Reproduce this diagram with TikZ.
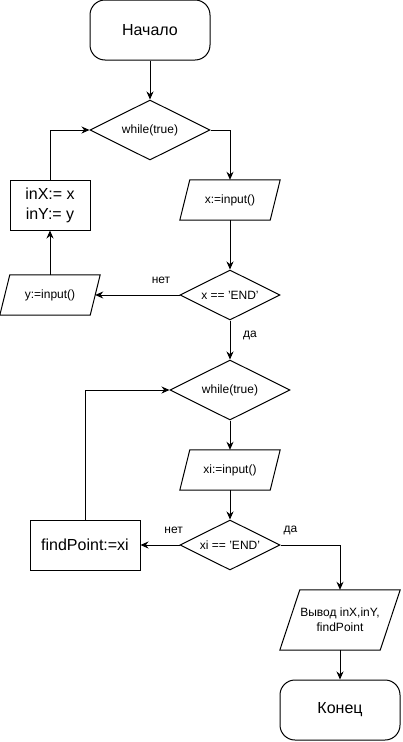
\documentclass[tikz,border=0pt]{standalone}
\usepackage{fontspec}
\setmainfont{Liberation Sans}
\usetikzlibrary{shapes.geometric,arrows.meta}
\newcommand\paral[2]{\draw[line width=1pt, line join=miter] (#1.south west) -- ([xshift=#2]#1.north west) -- (#1.north east) -- ([xshift=-#2]#1.south east) -- cycle;}
\begin{document}
\begin{tikzpicture}[x=1pt,y=-1pt,
  base/.style={draw, line width=1pt, inner sep=0pt, align=center, font=\fontsize{12}{15}\selectfont},
  term/.style={base, rectangle, rounded corners=15pt, minimum width=120pt, minimum height=60pt, font=\fontsize{16}{19}\selectfont},
  proc/.style={base, rectangle, font=\fontsize{16}{20}\selectfont},
  dec/.style={base, diamond, aspect=2},
  io/.style={rectangle, inner sep=0pt, align=center, font=\fontsize{12}{15}\selectfont},
  arr/.style={line width=1pt, -{Stealth[length=8pt,width=7pt]}},
  lbl/.style={inner sep=0pt, font=\fontsize{12}{14}\selectfont}
]
\useasboundingbox (0,0) rectangle (402,742);

\node[term] (start) at (150,30) {Начало};
\node[dec, minimum width=120pt, minimum height=60pt] (w1) at (150,130) {while(true)};
\node[io, minimum width=100pt, minimum height=40pt] (in1) at (230,200) {x:=input()};
\node[proc, minimum width=80pt, minimum height=50pt] (assign) at (50,205) {inX:= x\\inY:= y};
\node[io, minimum width=100pt, minimum height=40pt] (in2) at (50,295) {y:=input()};
\node[dec, minimum width=100pt, minimum height=50pt] (c1) at (230,295) {x == 'END'};
\node[dec, minimum width=120pt, minimum height=60pt] (w2) at (230,390) {while(true)};
\node[io, minimum width=100pt, minimum height=40pt] (in3) at (230,470) {xi:=input()};
\node[dec, minimum width=100pt, minimum height=50pt] (c2) at (230,545) {xi == 'END'};
\node[proc, minimum width=110pt, minimum height=50pt] (fp) at (85,545) {findPoint:=xi};
\node[io, minimum width=120pt, minimum height=60pt] (out) at (340,620) {Вывод inX,inY,\\findPoint};
\node[term] (end) at (340,710) {Конец};

\paral{in1}{10pt}
\paral{in2}{10pt}
\paral{in3}{10pt}
\paral{out}{20pt}
\coordinate (in2r) at ([xshift=-5pt]in2.east);

\draw[arr] (start) -- (w1);
\draw[arr] (w1.east) -| (in1);
\draw[arr] (in1) -- (c1);
\draw[arr] (c1.west) -- node[lbl, pos=0.22, yshift=15pt] (no1) {нет} (in2r);
\draw[arr] (in2) -- (assign);
\draw[arr] (assign.north) |- (w1.west);
\draw[arr] (c1.south) -- node[lbl, pos=0.375, xshift=20pt] (yes1) {да} (w2.north);
\draw[arr] (w2) -- (in3);
\draw[arr] (in3) -- (c2);
\draw[arr] (c2.west) -- node[lbl, pos=0.15, yshift=15pt] (no2) {нет} (fp.east);
\draw[arr] (fp.north) |- (w2.west);
\draw[arr] (c2.east) -| node[lbl, pos=0.083, yshift=15pt] (yes2) {да} (out);
\draw[arr] (out) -- (end);
\end{tikzpicture}
\end{document}
